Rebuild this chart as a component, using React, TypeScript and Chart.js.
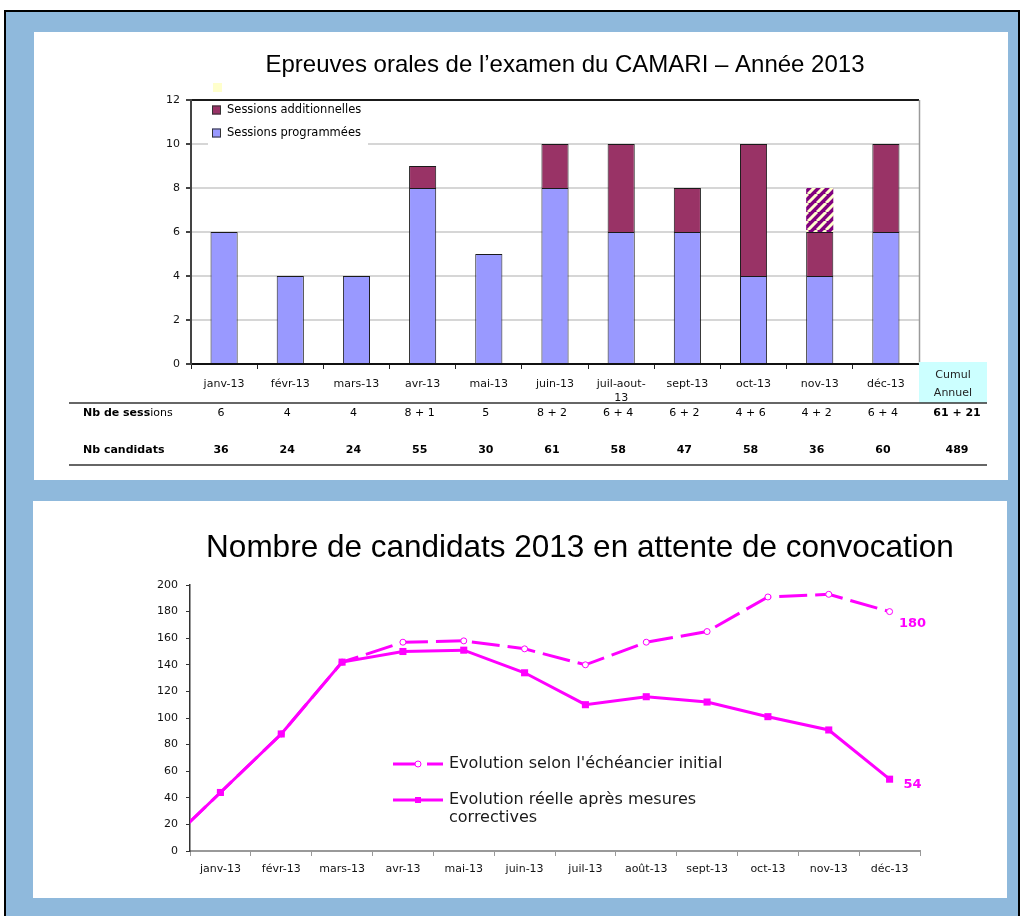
import React, { useEffect, useRef } from 'react';
import { Chart, registerables } from 'chart.js';

Chart.register(...registerables);

// ===================== Chart 1 : sessions =====================
const TITLE_SESSIONS = 'Epreuves orales de l’examen du CAMARI – Année 2013';
const MOIS_SESSIONS: (string | string[])[] = [
  'janv-13', 'févr-13', 'mars-13', 'avr-13', 'mai-13', 'juin-13',
  ['juil-aout-', '13'], 'sept-13', 'oct-13', 'nov-13', 'déc-13',
];
const SESSIONS_PROGRAMMEES = [6, 4, 4, 8, 5, 8, 6, 6, 4, 4, 6];
const SESSIONS_ADDITIONNELLES = [0, 0, 0, 1, 0, 2, 4, 2, 6, 2, 4];
const SESSIONS_A_VENIR = [0, 0, 0, 0, 0, 0, 0, 0, 0, 2, 0];
const NB_CANDIDATS = [36, 24, 24, 55, 30, 61, 58, 47, 58, 36, 60];
const LABEL_PROGRAMMEES = 'Sessions programmées';
const LABEL_ADDITIONNELLES = 'Sessions additionnelles';
const ROW_SESSIONS = ['Nb de sess', 'ions'];
const ROW_CANDIDATS = 'Nb candidats';
const CUMUL_HEADER = ['Cumul', 'Annuel'];
const Y_SESSIONS_MAX = 12;
const Y_SESSIONS_STEP = 2;

// ===================== Chart 2 : attente =====================
const TITLE_ATTENTE = 'Nombre de candidats 2013 en attente de convocation';
const MOIS_ATTENTE = [
  'déc-12', 'janv-13', 'févr-13', 'mars-13', 'avr-13', 'mai-13', 'juin-13',
  'juil-13', 'août-13', 'sept-13', 'oct-13', 'nov-13', 'déc-13',
];
const ATTENTE_INITIALE = [0, 44, 88, 142, 157, 158, 152, 140, 157, 165, 191, 193, 180];
const ATTENTE_REELLE = [0, 44, 88, 142, 150, 151, 134, 110, 116, 112, 101, 91, 54];
const LEGEND_INITIALE = ["Evolution selon l'échéancier initial"];
const LEGEND_REELLE = ['Evolution réelle après mesures', 'correctives'];
const Y_ATTENTE_MAX = 200;
const Y_ATTENTE_STEP = 20;

// ===================== styles =====================
const UI = "'DejaVu Sans', Tahoma, sans-serif";
const ARIAL = "'Liberation Sans', Arial, sans-serif";
const LAVANDE = '#9999FF';
const BORDEAUX = '#993366';
const MAGENTA = '#FF00FF';

const sum = (a: number[]) => a.reduce((s, v) => s + v, 0);

function makeHatch(): CanvasPattern | string {
  const s = 9;
  const c = document.createElement('canvas');
  c.width = s;
  c.height = s;
  const g = c.getContext('2d');
  if (!g) return '#800080';
  g.fillStyle = '#800080';
  g.fillRect(0, 0, s, s);
  g.strokeStyle = '#FFFFCC';
  g.lineWidth = 3;
  g.beginPath();
  for (let k = -1; k <= 1; k++) {
    g.moveTo(k * s, s);
    g.lineTo(k * s + s, 0);
  }
  g.stroke();
  return g.createPattern(c, 'repeat') || '#800080';
}

const decorSessions = {
  id: 'decorSessions',
  afterDatasetsDraw(chart: any) {
    const { ctx, chartArea: a } = chart;
    const x = chart.scales.x;
    const ds = chart.data.datasets;
    ctx.save();
    // right border of the plot
    ctx.strokeStyle = '#9a9a9a';
    ctx.lineWidth = 1.5;
    ctx.beginPath();
    ctx.moveTo(a.right + 0.5, a.top);
    ctx.lineTo(a.right + 0.5, a.bottom);
    ctx.stroke();

    // legend (inside plot)
    const lx = a.left + 17;
    ctx.fillStyle = '#fff';
    ctx.fillRect(lx, a.top + 1.5, 160, 44);
    ctx.fillStyle = '#FFFFCC';
    ctx.fillRect(a.left + 22, a.top - 17, 9, 9);
    [ds[1], ds[0]].forEach((d: any, i: number) => {
      const cy = a.top + 10 + i * 23;
      ctx.fillStyle = d.backgroundColor;
      ctx.fillRect(lx + 4, cy - 4.5, 9, 9);
      ctx.strokeStyle = '#333';
      ctx.lineWidth = 1;
      ctx.strokeRect(lx + 4.5, cy - 4, 8, 8);
      ctx.fillStyle = '#000';
      ctx.font = `11.5px ${UI}`;
      ctx.textAlign = 'left';
      ctx.textBaseline = 'middle';
      ctx.fillText(d.label, lx + 19, cy);
    });

    // Cumul header cell
    const cL = a.right;
    const cW = 68;
    ctx.fillStyle = '#CCFFFF';
    ctx.fillRect(cL, a.bottom - 2, cW, 41);
    ctx.fillStyle = '#222';
    ctx.font = `11px ${UI}`;
    ctx.textAlign = 'center';
    ctx.textBaseline = 'middle';
    ctx.fillText(CUMUL_HEADER[0], cL + cW / 2, a.bottom + 11);
    ctx.fillText(CUMUL_HEADER[1], cL + cW / 2, a.bottom + 29);

    // table rules
    const tL = a.left - 122;
    const tR = cL + cW;
    ctx.strokeStyle = '#333';
    ctx.lineWidth = 1.5;
    [a.bottom + 39, a.bottom + 101].forEach((yy) => {
      ctx.beginPath();
      ctx.moveTo(tL, yy);
      ctx.lineTo(tR, yy);
      ctx.stroke();
    });

    // rows
    const r1 = a.bottom + 49;
    const r2 = a.bottom + 86;
    ctx.fillStyle = '#000';
    ctx.textAlign = 'left';
    ctx.font = `bold 11px ${UI}`;
    ctx.fillText(ROW_SESSIONS[0], a.left - 108, r1);
    const w0 = ctx.measureText(ROW_SESSIONS[0]).width;
    ctx.font = `11px ${UI}`;
    ctx.fillText(ROW_SESSIONS[1], a.left - 108 + w0, r1);
    ctx.font = `bold 11px ${UI}`;
    ctx.fillText(ROW_CANDIDATS, a.left - 108, r2);

    ctx.textAlign = 'center';
    SESSIONS_PROGRAMMEES.forEach((p, i) => {
      const add = SESSIONS_ADDITIONNELLES[i];
      const cx = x.getPixelForValue(i) - 3;
      ctx.font = `11px ${UI}`;
      ctx.fillText(add > 0 ? `${p} + ${add}` : `${p}`, cx, r1);
      ctx.font = `bold 11px ${UI}`;
      ctx.fillText(String(NB_CANDIDATS[i]), cx, r2);
    });
    ctx.font = `bold 11px ${UI}`;
    ctx.fillText(`${sum(SESSIONS_PROGRAMMEES)} + ${sum(SESSIONS_ADDITIONNELLES)}`, cL + 38, r1);
    ctx.fillText(String(sum(NB_CANDIDATS)), cL + 38, r2);
    ctx.restore();
  },
};

const decorAttente = {
  id: 'decorAttente',
  afterDatasetsDraw(chart: any) {
    const { ctx, chartArea: a } = chart;
    ctx.save();
    // legend
    const sx0 = a.left + 203;
    const sx1 = a.left + 253;
    const mx = a.left + 228;
    const tx = a.left + 259;
    const y1 = a.top + 179;
    const y2 = a.top + 215;
    ctx.strokeStyle = MAGENTA;
    ctx.lineWidth = 3;
    ctx.setLineDash([22, 12]);
    ctx.beginPath();
    ctx.moveTo(sx0, y1);
    ctx.lineTo(sx1, y1);
    ctx.stroke();
    ctx.setLineDash([]);
    ctx.fillStyle = '#fff';
    ctx.lineWidth = 1;
    ctx.beginPath();
    ctx.arc(mx, y1, 3, 0, Math.PI * 2);
    ctx.fill();
    ctx.stroke();
    ctx.lineWidth = 3;
    ctx.beginPath();
    ctx.moveTo(sx0, y2);
    ctx.lineTo(sx1, y2);
    ctx.stroke();
    ctx.fillStyle = MAGENTA;
    ctx.fillRect(mx - 3, y2 - 3, 6, 6);

    ctx.fillStyle = '#1a1a1a';
    ctx.font = `16px ${UI}`;
    ctx.textAlign = 'left';
    ctx.textBaseline = 'middle';
    ctx.fillText(LEGEND_INITIALE[0], tx, y1);
    ctx.fillText(LEGEND_REELLE[0], tx, y2);
    ctx.fillText(LEGEND_REELLE[1], tx, y2 + 18);

    // end labels
    ctx.fillStyle = MAGENTA;
    ctx.font = `bold 13px ${UI}`;
    ctx.textAlign = 'center';
    const last = ATTENTE_INITIALE.length - 1;
    const p0 = chart.getDatasetMeta(0).data[last];
    const p1 = chart.getDatasetMeta(1).data[last];
    ctx.fillText(String(ATTENTE_INITIALE[last]), p0.x + 23, p0.y + 12);
    ctx.fillText(String(ATTENTE_REELLE[last]), p1.x + 23, p1.y + 5);
    ctx.restore();
  },
};

export default function App() {
  const ref1 = useRef<HTMLCanvasElement>(null);
  const ref2 = useRef<HTMLCanvasElement>(null);

  useEffect(() => {
    Chart.defaults.font.family = UI;
    Chart.defaults.color = '#111';
    const hatch = makeHatch();

    const chart1 = new Chart(ref1.current as HTMLCanvasElement, {
      type: 'bar',
      data: {
        labels: MOIS_SESSIONS as any,
        datasets: [
          {
            label: LABEL_PROGRAMMEES,
            data: SESSIONS_PROGRAMMEES,
            backgroundColor: LAVANDE,
            borderColor: '#1a1a1a',
            borderWidth: 1,
          },
          {
            label: LABEL_ADDITIONNELLES,
            data: SESSIONS_ADDITIONNELLES.map((v) => (v > 0 ? v : null)),
            backgroundColor: BORDEAUX,
            borderColor: '#1a1a1a',
            borderWidth: 1,
          },
          {
            label: '',
            data: SESSIONS_A_VENIR.map((v) => (v > 0 ? v : null)),
            backgroundColor: hatch as any,
            borderWidth: 0,
          },
        ],
      },
      options: {
        responsive: false,
        animation: false,
        devicePixelRatio: 1,
        layout: { padding: 0 },
        datasets: { bar: { barPercentage: 0.41, categoryPercentage: 1 } },
        plugins: {
          legend: { display: false },
          tooltip: { enabled: false },
          title: {
            display: true,
            text: TITLE_SESSIONS,
            color: '#000',
            font: { family: ARIAL, size: 24, weight: 'normal' },
            padding: { top: 18.6, bottom: 20.6 },
          },
        },
        scales: {
          x: {
            stacked: true,
            offset: true,
            grid: { drawOnChartArea: false, drawTicks: true, tickLength: 5, tickColor: '#222', offset: true },
            border: { color: '#111', width: 2 },
            ticks: { color: '#111', font: { family: UI, size: 11 }, padding: 9, autoSkip: false, maxRotation: 0 },
            afterFit: (s: any) => { s.height = 116; },
          },
          y: {
            stacked: true,
            min: 0,
            max: Y_SESSIONS_MAX,
            ticks: { stepSize: Y_SESSIONS_STEP, color: '#111', font: { family: UI, size: 11 }, padding: 6 },
            grid: {
              color: (c: any) => (c.tick && c.tick.value === Y_SESSIONS_MAX ? '#1a1a1a' : '#D6D6D6'),
              lineWidth: 2,
              tickLength: 5,
              tickColor: '#444',
            },
            border: { color: '#444', width: 2 },
            afterFit: (s: any) => { s.width = 157; },
          },
          pad: {
            type: 'linear',
            position: 'right',
            grid: { display: false, drawTicks: false },
            ticks: { display: false },
            border: { display: false },
            afterFit: (s: any) => { s.width = 177; },
          },
        } as any,
      },
      plugins: [decorSessions],
    });

    const chart2 = new Chart(ref2.current as HTMLCanvasElement, {
      type: 'line',
      data: {
        labels: MOIS_ATTENTE,
        datasets: [
          {
            label: LEGEND_INITIALE.join(' '),
            data: ATTENTE_INITIALE,
            order: 1,
            borderColor: MAGENTA,
            borderWidth: 3,
            borderDash: [28, 8],
            tension: 0,
            fill: false,
            pointStyle: 'circle',
            pointRadius: 3,
            pointBackgroundColor: '#fff',
            pointBorderColor: MAGENTA,
            pointBorderWidth: 1,
          },
          {
            label: LEGEND_REELLE.join(' '),
            data: ATTENTE_REELLE,
            order: 0,
            borderColor: MAGENTA,
            borderWidth: 3,
            tension: 0,
            fill: false,
            pointStyle: 'rect',
            pointRadius: 5,
            pointBackgroundColor: MAGENTA,
            pointBorderColor: MAGENTA,
            pointBorderWidth: 0,
          },
        ],
      },
      options: {
        responsive: false,
        animation: false,
        devicePixelRatio: 1,
        layout: { padding: 0 },
        plugins: {
          legend: { display: false },
          tooltip: { enabled: false },
          title: {
            display: true,
            text: TITLE_ATTENTE,
            color: '#000',
            font: { family: ARIAL, size: 31.5, weight: 'normal' },
            padding: { top: 28.1, bottom: 18.1 },
          },
        },
        scales: {
          x: {
            min: MOIS_ATTENTE[1],
            offset: true,
            grid: { drawOnChartArea: false, drawTicks: true, tickLength: 5, tickColor: '#999', offset: true },
            border: { color: '#999', width: 2 },
            ticks: { color: '#111', font: { family: UI, size: 11 }, padding: 7, autoSkip: false, maxRotation: 0 },
            afterFit: (s: any) => { s.height = 47; },
          },
          y: {
            min: 0,
            max: Y_ATTENTE_MAX,
            ticks: { stepSize: Y_ATTENTE_STEP, color: '#111', font: { family: UI, size: 11 }, padding: 8 },
            grid: { drawOnChartArea: false, drawTicks: true, tickLength: 4, tickColor: '#333' },
            border: { color: '#333', width: 1.5 },
            afterFit: (s: any) => { s.width = 157; },
          },
          pad: {
            type: 'linear',
            position: 'right',
            grid: { display: false, drawTicks: false },
            ticks: { display: false },
            border: { display: false },
            afterFit: (s: any) => { s.width = 207; },
          },
        } as any,
      },
      plugins: [decorAttente],
    });

    return () => {
      chart1.destroy();
      chart2.destroy();
    };
  }, []);

  return (
    <div style={{ position: 'absolute', left: 0, top: 0, width: 1023, height: 916, overflow: 'hidden', background: '#fff' }}>
      <div
        style={{
          position: 'absolute', left: 4, top: 10, width: 1012, height: 906,
          background: '#8FB9DC', borderLeft: '2px solid #000', borderTop: '2px solid #000', borderRight: '2px solid #000',
        }}
      />
      <div style={{ position: 'absolute', left: 34, top: 32, width: 974, height: 448, background: '#fff' }} />
      <div style={{ position: 'absolute', left: 33, top: 501, width: 974, height: 397, background: '#fff' }} />
      <canvas ref={ref1} width={1062} height={448} style={{ position: 'absolute', left: 34, top: 32 }} />
      <canvas ref={ref2} width={1094} height={397} style={{ position: 'absolute', left: 33, top: 501 }} />
    </div>
  );
}
